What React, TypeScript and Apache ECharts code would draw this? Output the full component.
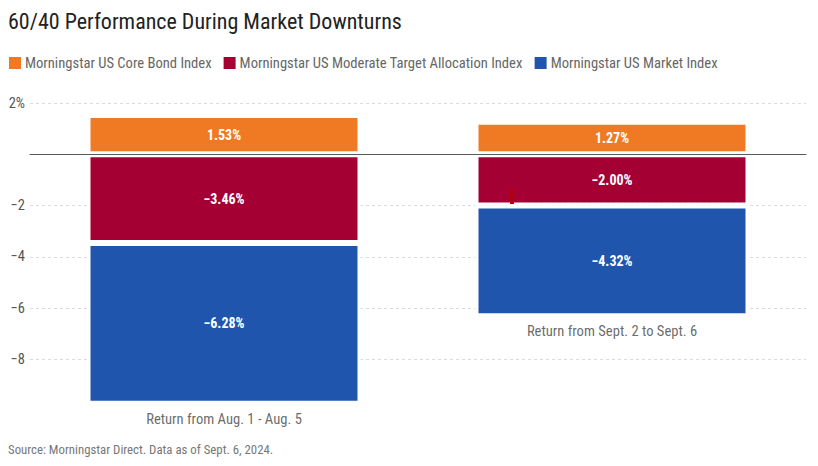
import React, { useEffect, useRef } from "react";
import * as echarts from "echarts";

const categories = ["Return from Aug. 1 - Aug. 5", "Return from Sept. 2 to Sept. 6"];
const seriesNames = [
  "Morningstar US Core Bond Index",
  "Morningstar US Moderate Target Allocation Index",
  "Morningstar US Market Index",
];
const coreBond = [1.53, 1.27];
const moderateAllocation = [-3.46, -2.0];
const usMarket = [-6.28, -4.32];
const colors = ["#F07A23", "#A50034", "#1F55AD"];
const yTicks = { min: -10, max: 2, interval: 2 };

const FONT = "'Liberation Sans Narrow', 'Roboto Condensed', Roboto, sans-serif";

const fmtPct = (v: number) => (v < 0 ? "\u2212" : "") + Math.abs(v).toFixed(2) + "%";

export default function App() {
  const ref = useRef<HTMLDivElement>(null);
  useEffect(() => {
    if (!ref.current) return;
    const chart = echarts.init(ref.current, null, { renderer: "svg" });
    const bottoms = moderateAllocation.map((v, i) => v + usMarket[i]);
    const valueLabel = {
      show: true,
      position: "inside",
      color: "#fff",
      fontFamily: FONT,
      fontSize: 14,
      fontWeight: "bold",
      formatter: (p: any) => fmtPct(p.value),
    };
    const barCommon = {
      type: "bar",
      stack: "total",
      barWidth: 273,
      itemStyle: { borderColor: "#fff", borderWidth: 3 },
      label: valueLabel,
    };
    chart.setOption({
      animation: false,
      textStyle: { fontFamily: FONT },
      title: {
        text: "60/40 Performance During Market Downturns",
        left: 3,
        top: 5,
        textStyle: { fontFamily: FONT, fontSize: 22, fontWeight: "normal", color: "#222" },
      },
      legend: {
        data: seriesNames,
        left: 7,
        top: 55,
        padding: 0,
        itemWidth: 14,
        itemHeight: 14,
        itemGap: 10,
        icon: "rect",
        textStyle: { fontFamily: FONT, fontSize: 14.6, color: "#666", padding: [0, 0, 0, -2] },
      },
      grid: { left: 30, right: 12, top: 103, bottom: 55.5, containLabel: false },
      xAxis: {
        type: "category",
        data: categories,
        z: 10,
        axisLine: { show: true, onZero: true, lineStyle: { color: "#595959", width: 1 } },
        axisTick: { show: false },
        axisLabel: { show: false },
      },
      yAxis: {
        type: "value",
        min: yTicks.min,
        max: yTicks.max,
        interval: yTicks.interval,
        axisLine: { show: false },
        axisTick: { show: false },
        axisLabel: {
          showMinLabel: false,
          margin: 5,
          fontFamily: FONT,
          fontSize: 14.5,
          color: "#555",
          formatter: (v: number) => (v === 0 ? "" : v > 0 ? v + "%" : "\u2212" + Math.abs(v)),
        },
        splitLine: {
          show: true,
          showMinLine: false,
          lineStyle: { color: "#dcdcdc", type: [3, 3], width: 1 },
        },
      },
      series: [
        { ...barCommon, name: seriesNames[0], data: coreBond, itemStyle: { ...barCommon.itemStyle, color: colors[0] } },
        { ...barCommon, name: seriesNames[1], data: moderateAllocation, itemStyle: { ...barCommon.itemStyle, color: colors[1] } },
        { ...barCommon, name: seriesNames[2], data: usMarket, itemStyle: { ...barCommon.itemStyle, color: colors[2] } },
        {
          type: "scatter",
          name: "categoryLabels",
          data: bottoms,
          symbolSize: 1,
          itemStyle: { color: "rgba(0,0,0,0)" },
          silent: true,
          z: 5,
          label: {
            show: true,
            position: "bottom",
            distance: 7,
            fontFamily: FONT,
            fontSize: 14.6,
            color: "#444",
            formatter: (p: any) => categories[p.dataIndex],
          },
        },
      ],
      graphic: [
        {
          type: "rect",
          shape: { x: 510, y: 189, width: 4, height: 15 },
          style: { fill: "#b3000f" },
          z: 20,
        },
        {
          type: "text",
          left: 8,
          top: 443,
          style: {
            text: "Source: Morningstar Direct. Data as of Sept. 6, 2024.",
            fontFamily: FONT,
            fontSize: 12.8,
            fill: "#777",
          },
        },
      ],
    });
    return () => chart.dispose();
  }, []);
  return <div ref={ref} style={{ width: 818, height: 466, position: "absolute", left: 0, top: 0 }} />;
}
